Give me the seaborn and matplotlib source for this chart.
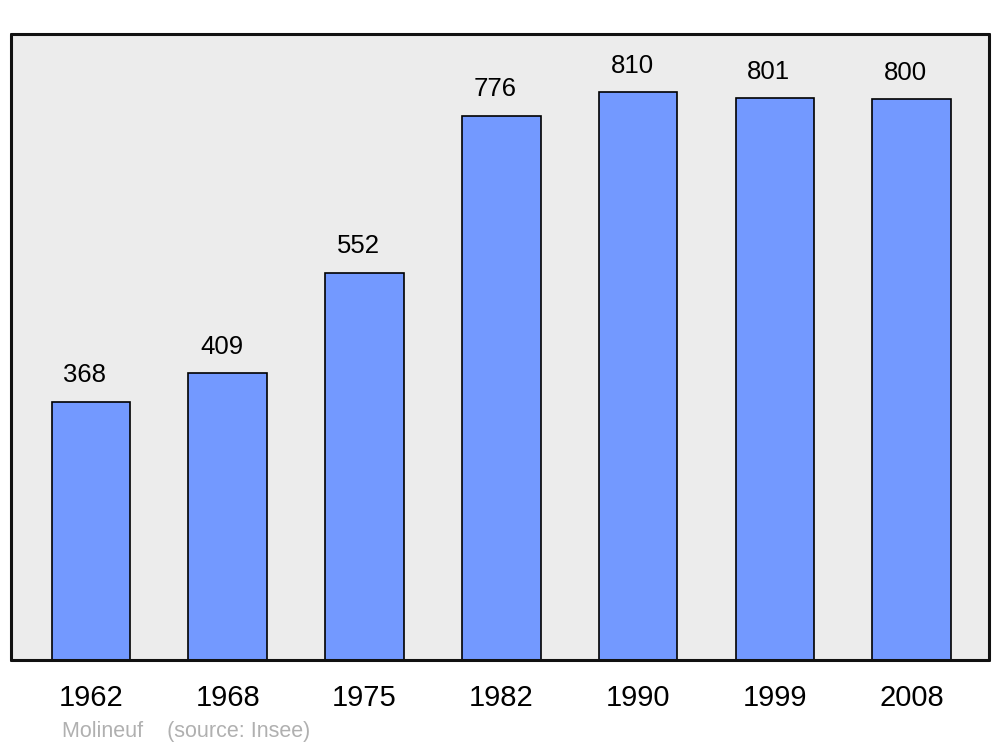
import matplotlib
matplotlib.use("Agg")
import matplotlib.pyplot as plt
import seaborn as sns
import pandas as pd

years = ["1962", "1968", "1975", "1982", "1990", "1999", "2008"]
population = [368, 409, 552, 776, 810, 801, 800]

df = pd.DataFrame({"Année": years, "Population": population})

sns.set_style("white")
plt.rcParams["font.family"] = ["Liberation Sans", "DejaVu Sans"]

fig = plt.figure(figsize=(10, 7.47), dpi=100)
ax = fig.add_axes([0.011, 1 - 660 / 747, 0.978, (660 - 34) / 747])
ax.set_facecolor("#ececec")

sns.barplot(data=df, x="Année", y="Population", ax=ax, color="#7399ff",
            saturation=1, width=0.575, edgecolor="black", linewidth=1.2)

# value labels sit a little left of the bar centre, as in the original
for i, v in enumerate(population):
    ax.text(i - 0.045, v + 38, str(v), ha="center", va="center", fontsize=18.5,
            color="black")

ax.set_xlim(-0.585, 6.565)
ax.set_ylim(0, 893)
ax.set_yticks([])
ax.set_xlabel("")
ax.set_ylabel("")
ax.tick_params(axis="x", length=0, labelsize=21, pad=17, labelcolor="black")

for s in ax.spines.values():
    s.set_linewidth(2.2)
    s.set_color("#111111")
    s.set_capstyle("round")
    s.set_joinstyle("round")

fig.text(0.062, 1 - 731 / 747, "Molineuf    (source: Insee)", color="#b0b0b0",
         fontsize=15.5, va="center", ha="left")

fig.savefig("out.png", dpi=100)
